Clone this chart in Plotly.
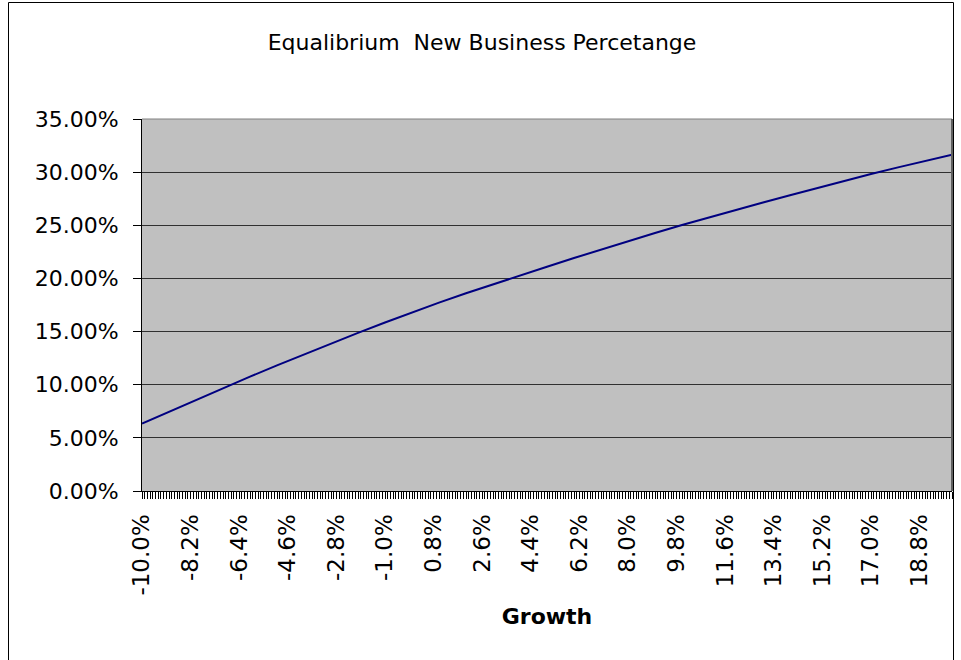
import plotly.graph_objects as go

# Growth rates (%) and equilibrium new business percentage (%)
growth = [-10, -9, -8, -7, -6, -5, -4, -3, -2, -1, 0, 1, 2, 3, 4, 5, 6, 7, 8, 9,
          10, 11, 12, 13, 14, 15, 16, 17, 18, 19, 20]
new_business_pct = [6.35, 7.47, 8.58, 9.68, 10.76, 11.82, 12.86, 13.88, 14.88, 15.85,
                    16.80, 17.72, 18.60, 19.45, 20.28, 21.10, 21.92, 22.72, 23.50, 24.27,
                    25.02, 25.75, 26.46, 27.15, 27.82, 28.50, 29.16, 29.82, 30.45, 31.06,
                    31.65]

x_tick_vals = [-10.0, -8.2, -6.4, -4.6, -2.8, -1.0, 0.8, 2.6, 4.4, 6.2, 8.0, 9.8,
               11.6, 13.4, 15.2, 17.0, 18.8]
x_tick_text = ["-10.0%", "-8.2%", "-6.4%", "-4.6%", "-2.8%", "-1.0%", "0.8%", "2.6%",
               "4.4%", "6.2%", "8.0%", "9.8%", "11.6%", "13.4%", "15.2%", "17.0%", "18.8%"]
y_tick_vals = [0, 5, 10, 15, 20, 25, 30, 35]
y_tick_text = ["0.00%", "5.00%", "10.00%", "15.00%", "20.00%", "25.00%", "30.00%", "35.00%"]

W, H = 961, 660
L, R, T, B = 142, 9, 119, 169
pw, ph = W - L - R, H - T - B

FONT = "DejaVu Sans"

fig = go.Figure()
fig.add_trace(go.Scatter(
    x=growth, y=new_business_pct, mode="lines",
    line=dict(color="#000080", width=2),
    showlegend=False, hoverinfo="skip",
))

def px_x(p):
    return (p - L) / pw

def px_y(p):
    return (H - B - p) / ph

shapes = [
    # outer chart border
    dict(type="rect", xref="paper", yref="paper",
         x0=px_x(8.5), x1=px_x(953.5), y0=px_y(668), y1=px_y(2.5),
         line=dict(color="#000000", width=1), fillcolor="rgba(0,0,0,0)", layer="above"),
    # plot area top and right border
    dict(type="line", xref="paper", yref="paper", x0=0, x1=1, y0=1, y1=1,
         line=dict(color="#808080", width=1), layer="above"),
    dict(type="line", xref="paper", yref="paper", x0=1, x1=1, y0=0, y1=1,
         line=dict(color="#606060", width=2), layer="above"),
]

fig.update_layout(
    width=W, height=H,
    margin=dict(l=L, r=R, t=T, b=B, pad=0),
    paper_bgcolor="white",
    plot_bgcolor="#C0C0C0",
    font=dict(family=FONT, color="black", size=22),
    title=dict(text="Equalibrium&nbsp; New Business Percetange",
               x=482 / W, xanchor="center", xref="container",
               y=1 - 42 / H, yanchor="middle", yref="container",
               font=dict(family=FONT, size=22, color="black")),
    shapes=shapes,
)

fig.update_xaxes(
    range=[-10, 20],
    tickmode="array", tickvals=x_tick_vals, ticktext=x_tick_text,
    tickangle=-90,
    ticks="outside", ticklen=7, tickcolor="black", tickwidth=1,
    ticklabelstandoff=6,
    minor=dict(dtick=0.1, tick0=-10, ticks="outside", ticklen=7,
               tickcolor="black", tickwidth=1, showgrid=False),
    showline=True, linecolor="black", linewidth=1,
    showgrid=False, zeroline=False,
    tickfont=dict(family=FONT, size=23, color="black"),
    title=dict(text="<b>Growth</b>", font=dict(family=FONT, size=22, color="black"),
               standoff=14),
)

fig.update_yaxes(
    range=[0, 35],
    tickmode="array", tickvals=y_tick_vals, ticktext=y_tick_text,
    ticks="outside", ticklen=8, tickcolor="black", tickwidth=1,
    ticklabelstandoff=10,
    showline=True, linecolor="black", linewidth=1,
    showgrid=True, gridcolor="#303030", gridwidth=1,
    zeroline=False,
    tickfont=dict(family=FONT, size=22, color="black"),
)

fig.write_html("out.html")
